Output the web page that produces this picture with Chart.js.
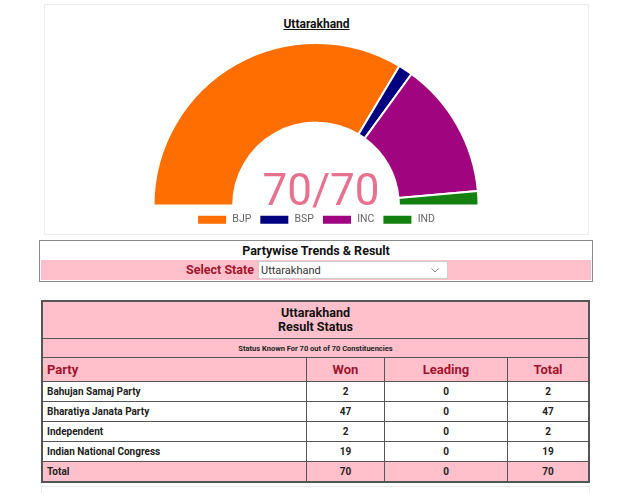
<!DOCTYPE html>
<html>
<head>
<meta charset="utf-8">
<script src="https://cdn.jsdelivr.net/npm/chart.js@4"></script>
<style>
  body { margin: 0; width: 640px; height: 493px; background: #fff; font-family: Roboto, Arial, sans-serif; position: relative; overflow: hidden; }
  .chartBox { position: absolute; left: 44px; top: 4px; width: 543px; height: 229px; border: 1px solid #ececec; }
  .chartBox h3 { margin: 0; position: absolute; left: 0; right: 0; top: 12px; text-align: center; font-size: 12px; font-weight: bold; text-decoration: underline; color: #111; }
  .canvasWrap { position: absolute; left: 44px; top: 34px; width: 544px; height: 201px; }
  .stateBox { position: absolute; left: 39px; top: 240px; width: 552px; height: 40px; border: 1px solid #8a8a8a; }
  .stateBox .head { height: 19px; line-height: 19px; text-align: center; font-size: 12.5px; font-weight: bold; color: #111; }
  .stateBox .row { position: absolute; left: 1px; right: 1px; top: 19px; height: 20px; background: #ffc0cb; }
  .stateBox label { position: absolute; right: 337px; top: 2px; font-size: 12.5px; font-weight: bold; color: #a0142e; }
  .stateBox select { position: absolute; left: 217px; top: 1px; width: 190px; height: 18px; font-family: Roboto, Arial, sans-serif; font-size: 11px; color: #333; border: 1px solid #cfcfcf; border-radius: 2px; padding: 0 2px;
    -webkit-appearance: none; appearance: none;
    background: #fff url("data:image/svg+xml;utf8,<svg xmlns='http://www.w3.org/2000/svg' width='8' height='5'><path d='M0.5 0.5 L4 4 L7.5 0.5' fill='none' stroke='%23888' stroke-width='1'/></svg>") no-repeat right 8px center; }
  table.result { position: absolute; left: 41px; top: 300px; width: 549px; border-collapse: collapse; border: 2px solid #555; font-size: 10px; }
  table.result td, table.result th { border: 1px solid #555; padding: 0 4px; }
  table.result .pink { background: #ffc0cb; }
  table.result .title td { height: 36px; text-align: center; font-size: 12.5px; font-weight: bold; color: #111; line-height: 14px; }
  table.result .status td { height: 18px; text-align: center; font-size: 7.5px; font-weight: bold; color: #222; }
  table.result .hdr th { height: 23px; font-size: 13px; font-weight: bold; color: #a0142e; text-align: center; }
  table.result .hdr th.left { text-align: left; }
  table.result .body td { height: 19px; font-weight: bold; color: #222; text-align: center; }
  table.result .body td.left { text-align: left; }
  .nextBox { position: absolute; left: 41px; top: 486px; width: 547px; height: 20px; border: 1px solid #ececec; }
</style>
</head>
<body>
<div class="chartBox"><h3>Uttarakhand</h3></div>
<div class="canvasWrap"><canvas id="seatChart"></canvas></div>

<div class="stateBox">
  <div class="head">Partywise Trends &amp; Result</div>
  <div class="row">
    <label>Select State</label>
    <select><option>Uttarakhand</option></select>
  </div>
</div>

<table class="result" id="resultTable"></table>
<div class="nextBox"></div>

<script>
// chart data
const parties = ["BJP", "BSP", "INC", "IND"];
const seats = [47, 2, 19, 2];
const partyColors = ["#ff6e00", "#000080", "#a1047f", "#13800f"];
const centerLabel = "70/70";

// table data
const stateName = "Uttarakhand";
const partyNames = ["Bahujan Samaj Party", "Bharatiya Janata Party", "Independent", "Indian National Congress"];
const wonSeats = [2, 47, 2, 19];
const leadingSeats = [0, 0, 0, 0];
const totalSeats = [2, 47, 2, 19];
const statusText = "Status Known For 70 out of 70 Constituencies";

const centerText = {
  id: "centerText",
  afterDatasetsDraw(chart) {
    const arc = chart.getDatasetMeta(0).data[0];
    if (!arc) return;
    const ctx = chart.ctx;
    ctx.save();
    ctx.font = "44px Roboto";
    ctx.fillStyle = "#e8718f";
    ctx.textAlign = "center";
    ctx.textBaseline = "alphabetic";
    ctx.fillText(centerLabel, arc.x + 5, arc.y - 1);
    ctx.restore();
  }
};

new Chart(document.getElementById("seatChart"), {
  type: "doughnut",
  data: {
    labels: parties,
    datasets: [{
      data: seats,
      backgroundColor: partyColors,
      borderColor: "#fff",
      borderWidth: 2
    }]
  },
  options: {
    responsive: true,
    maintainAspectRatio: false,
    animation: false,
    rotation: -90,
    circumference: 180,
    cutout: "51%",
    layout: { padding: { top: 8 } },
    plugins: {
      legend: {
        position: "bottom",
        labels: {
          boxWidth: 30,
          boxHeight: 10,
          padding: 8,
          color: "#666",
          font: { family: "Roboto", size: 10.5 }
        }
      },
      tooltip: { enabled: false }
    }
  },
  plugins: [centerText]
});

// build the table
const table = document.getElementById("resultTable");
let html = "";
html += `<tr class="title pink"><td colspan="4">${stateName}<br>Result Status</td></tr>`;
html += `<tr class="status pink"><td colspan="4">${statusText}</td></tr>`;
html += `<tr class="hdr pink"><th class="left" style="width:255px">Party</th><th style="width:69px">Won</th><th style="width:114px">Leading</th><th>Total</th></tr>`;
partyNames.forEach((name, i) => {
  html += `<tr class="body"><td class="left">${name}</td><td>${wonSeats[i]}</td><td>${leadingSeats[i]}</td><td>${totalSeats[i]}</td></tr>`;
});
const sum = arr => arr.reduce((a, b) => a + b, 0);
html += `<tr class="body pink"><td class="left">Total</td><td>${sum(wonSeats)}</td><td>${sum(leadingSeats)}</td><td>${sum(totalSeats)}</td></tr>`;
table.innerHTML = html;
</script>
</body>
</html>
